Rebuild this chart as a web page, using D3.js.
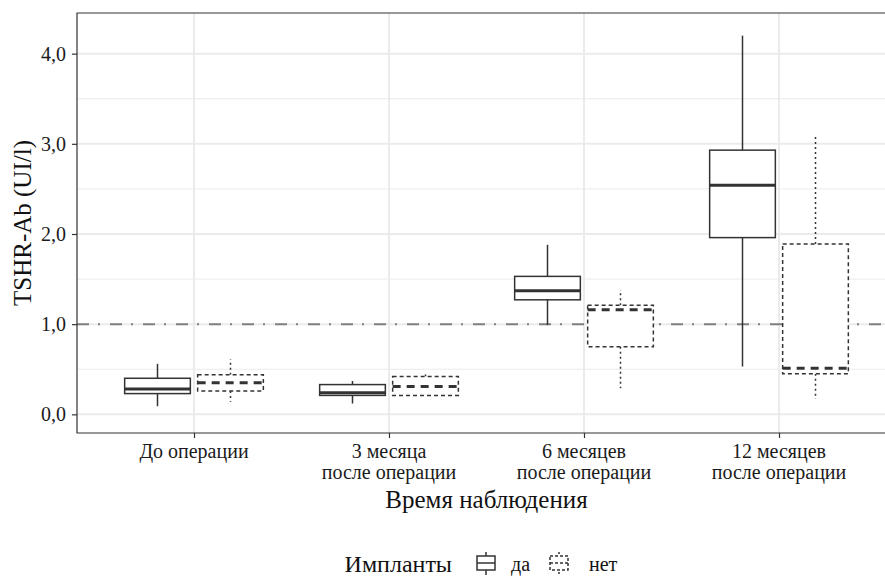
<!DOCTYPE html>
<html>
<head>
<meta charset="utf-8">
<script src="https://cdn.jsdelivr.net/npm/d3@7"></script>
<style>
  body { margin: 0; background: #fff; }
  svg text { font-family: "Liberation Serif", "DejaVu Serif", serif; }
</style>
</head>
<body>
<script>
// categories and groups
var categories = ["До операции", "3 месяца\nпосле операции", "6 месяцев\nпосле операции", "12 месяцев\nпосле операции"];
var groups = ["да", "нет"];

// box statistics: [lower whisker, q1, median, q3, upper whisker]
var daMin = [0.09, 0.12, 0.99, 0.53];
var daQ1  = [0.23, 0.21, 1.27, 1.96];
var daMed = [0.28, 0.24, 1.37, 2.54];
var daQ3  = [0.40, 0.33, 1.53, 2.93];
var daMax = [0.56, 0.37, 1.88, 4.20];

var netMin = [0.14, 0.21, 0.29, 0.17];
var netQ1  = [0.26, 0.21, 0.75, 0.45];
var netMed = [0.35, 0.31, 1.16, 0.51];
var netQ3  = [0.44, 0.42, 1.21, 1.89];
var netMax = [0.61, 0.46, 1.38, 3.09];

var yTicks = [0, 1, 2, 3, 4];
var yMinor = [0.5, 1.5, 2.5, 3.5];
var refLine = 1;

var boxes = [];
categories.forEach(function(c, i) {
  boxes.push({cat: c, group: "да", lo: daMin[i], q1: daQ1[i], med: daMed[i], q3: daQ3[i], hi: daMax[i]});
  boxes.push({cat: c, group: "нет", lo: netMin[i], q1: netQ1[i], med: netMed[i], q3: netQ3[i], hi: netMax[i]});
});

var W = 885, H = 578;
var panel = {left: 77, top: 13, right: 896, bottom: 433};
var serif = "Liberation Serif";

var svg = d3.select("body").append("svg")
    .attr("width", W)
    .attr("height", H);

var x0 = d3.scalePoint()
    .domain(categories)
    .range([panel.left, panel.right])
    .padding(0.6);

var x1 = d3.scaleBand()
    .domain(groups)
    .range([-73, 73]);

var y = d3.scaleLinear()
    .domain([-0.207, 4.451])
    .range([panel.bottom, panel.top]);

var fmt = function(d) { return d3.format(".1f")(d).replace(".", ","); };

var lineStyle = {
  "да":  {box: null, whisk: null, med: null},
  "нет": {box: "4,3", whisk: "2,3", med: "8,6"}
};
var ink = "#333333";

// panel background + grid
var g = svg.append("g");
g.append("rect")
    .attr("x", panel.left).attr("y", panel.top)
    .attr("width", panel.right - panel.left).attr("height", panel.bottom - panel.top)
    .attr("fill", "#fff");

g.selectAll(".minor")
    .data(yMinor)
  .enter().append("line")
    .attr("x1", panel.left).attr("x2", panel.right)
    .attr("y1", d => y(d)).attr("y2", d => y(d))
    .attr("stroke", "#ebebeb").attr("stroke-width", 1);

g.selectAll(".major")
    .data(yTicks)
  .enter().append("line")
    .attr("x1", panel.left).attr("x2", panel.right)
    .attr("y1", d => y(d)).attr("y2", d => y(d))
    .attr("stroke", "#ebebeb").attr("stroke-width", 2);

g.selectAll(".vmajor")
    .data(categories)
  .enter().append("line")
    .attr("x1", d => x0(d)).attr("x2", d => x0(d))
    .attr("y1", panel.top).attr("y2", panel.bottom)
    .attr("stroke", "#ebebeb").attr("stroke-width", 2);

// reference line
g.append("line")
    .attr("x1", panel.left).attr("x2", panel.right)
    .attr("y1", y(refLine)).attr("y2", y(refLine))
    .attr("stroke", "#808080").attr("stroke-width", 2)
    .attr("stroke-dasharray", "12,9,2,10");

// boxes
var bw = x1.bandwidth() * 0.9;
var bx = svg.selectAll(".box")
    .data(boxes)
  .enter().append("g")
    .attr("class", "box")
    .attr("transform", d => "translate(" + (x0(d.cat) + x1(d.group) + x1.bandwidth() / 2) + ",0)");

bx.append("line")
    .attr("x1", 0).attr("x2", 0)
    .attr("y1", d => y(d.q3)).attr("y2", d => y(d.hi))
    .attr("stroke", ink).attr("stroke-width", 1.5)
    .attr("stroke-dasharray", d => lineStyle[d.group].whisk);

bx.append("line")
    .attr("x1", 0).attr("x2", 0)
    .attr("y1", d => y(d.q1)).attr("y2", d => y(d.lo))
    .attr("stroke", ink).attr("stroke-width", 1.5)
    .attr("stroke-dasharray", d => lineStyle[d.group].whisk);

bx.append("rect")
    .attr("x", -bw / 2).attr("width", bw)
    .attr("y", d => y(d.q3)).attr("height", d => y(d.q1) - y(d.q3))
    .attr("fill", "#fff")
    .attr("stroke", ink).attr("stroke-width", 1.5)
    .attr("stroke-dasharray", d => lineStyle[d.group].box);

bx.append("line")
    .attr("x1", -bw / 2).attr("x2", bw / 2)
    .attr("y1", d => y(d.med)).attr("y2", d => y(d.med))
    .attr("stroke", ink).attr("stroke-width", 3)
    .attr("stroke-dasharray", d => lineStyle[d.group].med);

// panel border (left, top, bottom)
svg.append("path")
    .attr("d", "M" + panel.right + "," + panel.top + "H" + panel.left + "V" + panel.bottom + "H" + panel.right)
    .attr("fill", "none").attr("stroke", ink).attr("stroke-width", 1.2);

// y axis
var yAxis = svg.append("g")
    .attr("transform", "translate(" + panel.left + ",0)")
    .call(d3.axisLeft(y).tickValues(yTicks).tickFormat(fmt).tickSize(5).tickPadding(6));
yAxis.attr("font-family", null);
yAxis.select(".domain").remove();
yAxis.selectAll(".tick line").attr("stroke", ink).attr("stroke-width", 1.2);
yAxis.selectAll(".tick text")
    .attr("fill", "#1a1a1a")
    .style("font-family", serif)
    .style("font-size", "20px");

// x axis
var xAxis = svg.append("g")
    .attr("transform", "translate(0," + panel.bottom + ")")
    .call(d3.axisBottom(x0).tickSize(5).tickFormat(""));
xAxis.select(".domain").remove();
xAxis.selectAll(".tick line").attr("stroke", ink).attr("stroke-width", 1.2);

svg.selectAll(".xlab")
    .data(categories)
  .enter().append("text")
    .attr("class", "xlab")
    .attr("x", d => x0(d))
    .attr("y", panel.bottom + 25)
    .attr("text-anchor", "middle")
    .attr("fill", "#1a1a1a")
    .style("font-family", serif)
    .style("font-size", "20px")
    .each(function(d) {
      var lines = d.split("\n");
      d3.select(this).selectAll("tspan")
          .data(lines)
        .enter().append("tspan")
          .attr("x", x0(d))
          .attr("dy", (l, i) => i == 0 ? 0 : 21)
          .text(l => l);
    });

// axis titles
svg.append("text")
    .attr("x", (panel.left + panel.right) / 2)
    .attr("y", panel.bottom + 75)
    .attr("text-anchor", "middle")
    .attr("fill", "#111")
    .style("font-family", serif)
    .style("font-size", "25px")
    .text("Время наблюдения");

svg.append("text")
    .attr("transform", "translate(31," + ((panel.top + panel.bottom) / 2) + ") rotate(-90)")
    .attr("text-anchor", "middle")
    .attr("fill", "#111")
    .style("font-family", serif)
    .style("font-size", "25px")
    .text("TSHR-Ab (UI/l)");

// legend
var leg = svg.append("g").attr("transform", "translate(0,563)");
leg.append("text")
    .attr("x", 452).attr("y", 9)
    .attr("text-anchor", "end")
    .attr("fill", "#111")
    .style("font-family", serif)
    .style("font-size", "24px")
    .text("Импланты");

var keyX = [486, 559];
var labX = [511, 589];
groups.forEach(function(gr, i) {
  var k = leg.append("g").attr("transform", "translate(" + keyX[i] + ",0)");
  var dash = lineStyle[gr];
  k.append("line").attr("x1", 0).attr("x2", 0).attr("y1", -11).attr("y2", 12)
      .attr("stroke", ink).attr("stroke-width", 1.5).attr("stroke-dasharray", dash.whisk);
  k.append("rect").attr("x", -9).attr("y", -7).attr("width", 18).attr("height", 14)
      .attr("fill", "#fff").attr("stroke", ink).attr("stroke-width", 1.5)
      .attr("stroke-dasharray", dash.box ? "3,2" : null);
  k.append("line").attr("x1", -9).attr("x2", 9).attr("y1", 0).attr("y2", 0)
      .attr("stroke", ink).attr("stroke-width", 1.5)
      .attr("stroke-dasharray", dash.box ? "3,2" : null);
  leg.append("text")
      .attr("x", labX[i]).attr("y", 8)
      .attr("fill", "#111")
      .style("font-family", serif)
      .style("font-size", "20px")
      .text(gr);
});
</script>
</body>
</html>
